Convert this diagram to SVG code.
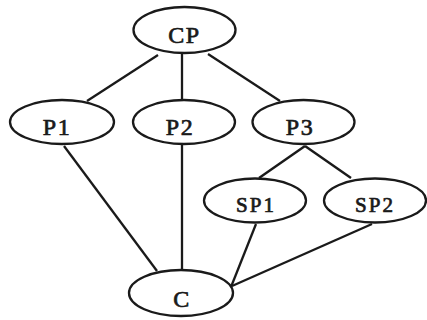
<svg xmlns="http://www.w3.org/2000/svg" width="427" height="320" viewBox="0 0 427 320">
<style>
.n{fill:#fff;stroke:#1a1a1a;stroke-width:2.3}
.e{stroke:#1a1a1a;stroke-width:2.3;fill:none}
.t{font-family:"Liberation Serif","Times New Roman",serif;font-size:24px;fill:#1a1a1a;stroke:#1a1a1a;stroke-width:0.7px;text-anchor:middle;letter-spacing:1.5px}
.s{font-size:21px;letter-spacing:2px}
</style>
<rect width="427" height="320" fill="#fff"/>
<g id="connectors">
<line class="e" x1="158" y1="55" x2="87" y2="101"/>
<line class="e" x1="182" y1="53" x2="182" y2="100"/>
<line class="e" x1="208" y1="54" x2="280" y2="101"/>
<line class="e" x1="305" y1="146" x2="259" y2="178"/>
<line class="e" x1="305" y1="146" x2="351" y2="178"/>
<line class="e" x1="64" y1="146" x2="157" y2="271"/>
<line class="e" x1="182" y1="145" x2="182" y2="270"/>
<line class="e" x1="256" y1="224" x2="231" y2="287"/>
<line class="e" x1="372" y1="224" x2="232" y2="286"/>
</g>
<g id="CP"><ellipse class="n" cx="184.5" cy="30" rx="51" ry="23"/><text class="t" x="184.5" y="43">CP</text></g>
<g id="P1"><ellipse class="n" cx="62" cy="122" rx="52" ry="22"/><text class="t" x="57" y="135">P1</text></g>
<g id="P2"><ellipse class="n" cx="184" cy="122" rx="51" ry="22"/><text class="t" x="180" y="135">P2</text></g>
<g id="P3"><ellipse class="n" cx="303.5" cy="122" rx="51" ry="22"/><text class="t" x="300" y="135">P3</text></g>
<g id="SP1"><ellipse class="n" cx="255" cy="200.5" rx="51" ry="22"/><text class="t s" x="256" y="212">SP1</text></g>
<g id="SP2"><ellipse class="n" cx="375" cy="200.5" rx="51" ry="22"/><text class="t s" x="375" y="212">SP2</text></g>
<g id="C"><ellipse class="n" cx="181" cy="293" rx="52" ry="23"/><text class="t" x="182" y="307">C</text></g>
</svg>
